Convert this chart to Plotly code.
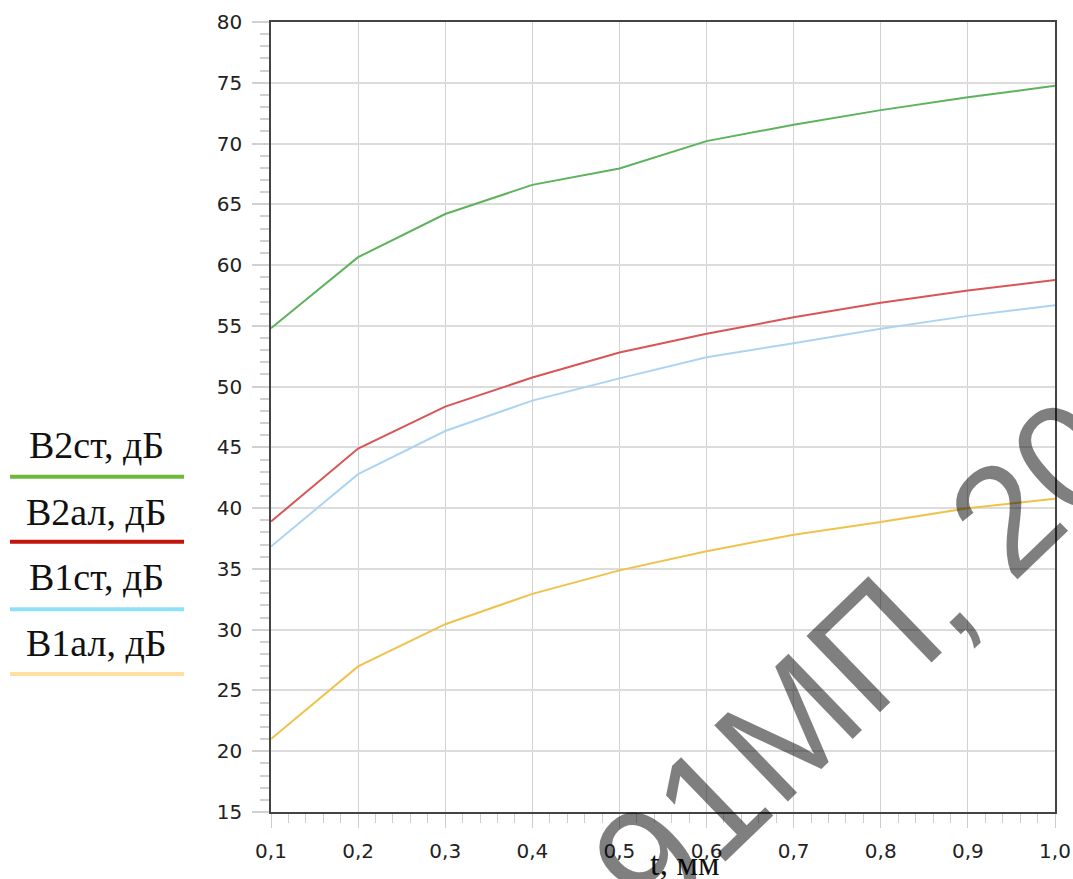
import plotly.graph_objects as go

t_mm = [0.1, 0.2, 0.3, 0.4, 0.5, 0.6, 0.7, 0.8, 0.9, 1.0]
B2st = [54.8, 60.65, 64.2, 66.6, 67.95, 70.2, 71.55, 72.75, 73.8, 74.75]
B2al = [38.9, 44.9, 48.35, 50.75, 52.8, 54.35, 55.7, 56.9, 57.9, 58.77]
B1st = [36.85, 42.8, 46.35, 48.85, 50.68, 52.42, 53.57, 54.76, 55.82, 56.7]
B1al = [21.0, 26.98, 30.45, 32.95, 34.88, 36.45, 37.82, 38.86, 40.0, 40.78]

series_names = ["B2ст, дБ", "B2ал, дБ", "B1ст, дБ", "B1ал, дБ"]
series_values = [B2st, B2al, B1st, B1al]
line_colors = ["#5cb35c", "#d95555", "#acd4f2", "#f0c24c"]
legend_colors = ["#6cba3c", "#c0160c", "#8ee0fa", "#fde0a2"]

x_title = "t, мм"
watermark = "91МП, 2023"

W, H = 1073, 879
L, R, T, B = 271, 1055, 22, 812


def px(xp):
    return (xp - L) / (R - L)


def py(yp):
    return (B - yp) / (B - T)


fig = go.Figure()
for name, vals, col in zip(series_names, series_values, line_colors):
    fig.add_trace(go.Scatter(x=t_mm, y=vals, mode="lines", name=name,
                             line=dict(color=col, width=2), showlegend=False))

shapes = []
annotations = []
text_y = [445, 511.7, 576.7, 643]
line_y = [476.7, 541.7, 609.3, 674]
for name, col, ty, ly in zip(series_names, legend_colors, text_y, line_y):
    shapes.append(dict(type="line", xref="paper", yref="paper",
                       x0=px(10), x1=px(184), y0=py(ly), y1=py(ly),
                       line=dict(color=col, width=4)))
    annotations.append(dict(text=name, xref="paper", yref="paper",
                            x=px(96), y=py(ty), xanchor="center", yanchor="middle",
                            showarrow=False,
                            font=dict(family="Liberation Serif", size=38, color="#111")))

annotations.append(dict(text=x_title, xref="paper", yref="paper",
                        x=px(684), y=py(864), xanchor="center", yanchor="middle",
                        showarrow=False,
                        font=dict(family="Liberation Serif", size=34, color="#111")))

annotations.append(dict(text=watermark, xref="paper", yref="paper",
                        x=px(920), y=py(600), xanchor="center", yanchor="middle",
                        textangle=-44, showarrow=False,
                        font=dict(family="Liberation Sans", size=154,
                                  color="rgba(0,0,0,0.5)")))

fig.update_layout(
    width=W, height=H,
    margin=dict(l=L, r=W - R, t=T, b=H - B, autoexpand=False),
    paper_bgcolor="white", plot_bgcolor="white",
    separators=", ",
    shapes=shapes, annotations=annotations,
    showlegend=False,
)

fig.update_xaxes(range=[0.1, 1.0], dtick=0.1, tick0=0.1, tickformat=".1f",
                 automargin=False,
                 showgrid=True, gridcolor="#d2d2d2", gridwidth=1.2,
                 ticks="outside", ticklen=14, tickcolor="#cccccc", tickwidth=1.2,
                 minor=dict(dtick=0.02, tick0=0.1, ticks="outside", ticklen=9,
                            tickcolor="#cccccc", showgrid=False),
                 showline=True, linecolor="#444", linewidth=1.5, mirror=True,
                 zeroline=False, ticklabelstandoff=6,
                 tickfont=dict(family="DejaVu Sans", size=20, color="#222"))

fig.update_yaxes(range=[15, 80], dtick=5, tick0=15, automargin=False,
                 showgrid=True, gridcolor="#dcdcdc", gridwidth=2,
                 ticks="outside", ticklen=17, tickcolor="#d0d0d0", tickwidth=1.5,
                 minor=dict(dtick=1, tick0=15, ticks="outside", ticklen=9,
                            tickcolor="#d0d0d0", showgrid=False),
                 showline=True, linecolor="#444", linewidth=1.5, mirror=True,
                 zeroline=False, ticklabelstandoff=6,
                 tickfont=dict(family="DejaVu Sans", size=20, color="#222"))

fig.write_html("out.html", config={"displayModeBar": False},
               post_script="document.body.style.margin='0';document.body.style.overflow='hidden';")
